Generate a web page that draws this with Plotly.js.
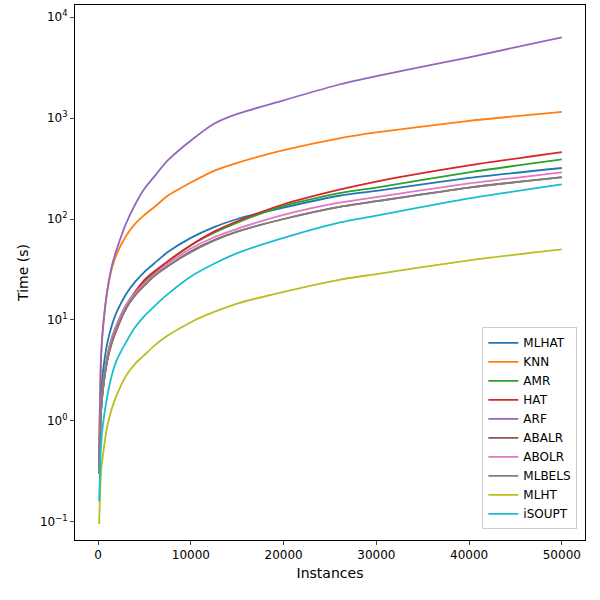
<!DOCTYPE html>
<html>
<head>
<script src="https://cdn.plot.ly/plotly-3.0.1.min.js"></script>
</head>
<body style="margin:0">
<div id="chart" style="width:600px;height:600px"></div>
<script>
var instances = [100, 300, 500, 1000, 1500, 2000, 3000, 4000, 5000, 6000, 7500, 10000, 12500, 15000, 20000, 26000, 30000, 40000, 50000];
var names = ['MLHAT', 'KNN', 'AMR', 'HAT', 'ARF', 'ABALR', 'ABOLR', 'MLBELS', 'MLHT', 'iSOUPT'];
var colors = ['#1f77b4', '#ff7f0e', '#2ca02c', '#d62728', '#9467bd', '#8c564b', '#e377c2', '#7f7f7f', '#bcbd22', '#17becf'];
var MLHAT  = [0.35, 1.8, 3.0, 6.0, 9, 12, 18, 24, 30, 36, 47, 65, 83, 100, 130, 170, 190, 255, 320];
var KNN    = [0.5, 4, 8, 20, 33, 45, 68, 90, 110, 130, 170, 230, 300, 360, 480, 630, 720, 940, 1150];
var AMR    = [0.3, 1.3, 2.2, 4.5, 6.8, 9, 14, 19, 24, 29, 38, 55, 73, 92, 135, 180, 205, 290, 390];
var HAT    = [0.3, 1.2, 2.0, 4.0, 6, 8, 13, 19, 25, 30, 38, 55, 75, 95, 140, 195, 235, 340, 460];
var ARF    = [0.5, 4, 8, 20, 35, 50, 90, 140, 200, 260, 380, 600, 880, 1100, 1500, 2150, 2600, 4000, 6300];
var ABALR  = [0.3, 1.2, 2.0, 4.2, 6.4, 8.5, 13, 18, 22, 27, 34, 48, 62, 75, 100, 132, 150, 205, 260];
var ABOLR  = [0.3, 1.3, 2.1, 4.4, 6.7, 9, 14, 18.5, 23, 28, 36, 51, 66, 80, 110, 145, 165, 225, 290];
var MLBELS = [0.3, 1.2, 2.0, 4.1, 6.2, 8.3, 13, 17.5, 22, 27, 34, 47, 61, 75, 100, 132, 150, 205, 258];
var MLHT   = [0.095, 0.3, 0.45, 0.9, 1.35, 1.8, 2.8, 3.7, 4.5, 5.5, 7, 9.5, 12, 14.5, 19, 25, 28.5, 39, 50];
var iSOUPT = [0.16, 0.55, 0.9, 1.8, 2.9, 4, 6, 8.5, 11, 13.5, 18, 27, 36, 46, 65, 92, 108, 160, 220];
var series = [MLHAT, KNN, AMR, HAT, ARF, ABALR, ABOLR, MLBELS, MLHT, iSOUPT];
var xTicks = [0, 10000, 20000, 30000, 40000, 50000];

var traces = [];
for (var i = 0; i < names.length; i++) {
  traces.push({x: instances, y: series[i], name: names[i], mode: 'lines',
    line: {color: colors[i], width: 1.8, shape: 'spline', smoothing: 0.6}});
}

var layout = {
  width: 600, height: 600,
  margin: {l: 75, r: 15, t: 5, b: 60},
  font: {family: 'DejaVu Sans', size: 12, color: '#000'},
  plot_bgcolor: '#fff', paper_bgcolor: '#fff',
  showlegend: true,
  legend: {x: 0.985, y: 0.02, xanchor: 'right', yanchor: 'bottom',
    bordercolor: '#ccc', borderwidth: 1, font: {size: 12}},
  xaxis: {title: {text: 'Instances', standoff: 6}, range: [-2500, 52500],
    tickvals: xTicks, ticktext: xTicks.map(String),
    showgrid: false, zeroline: false, showline: true, mirror: true, linecolor: '#000',
    ticks: 'outside', ticklen: 4},
  yaxis: {title: {text: 'Time (s)', standoff: 8}, type: 'log', range: [-1.18, 4.12],
    tickvals: [0.1, 1, 10, 100, 1000, 10000],
    ticktext: ['10<sup>−1</sup>', '10<sup>0</sup>', '10<sup>1</sup>', '10<sup>2</sup>', '10<sup>3</sup>', '10<sup>4</sup>'],
    showgrid: false, zeroline: false, showline: true, mirror: true, linecolor: '#000',
    ticks: 'outside', ticklen: 4}
};
Plotly.newPlot('chart', traces, layout, {displayModeBar: false});
</script>
</body>
</html>
